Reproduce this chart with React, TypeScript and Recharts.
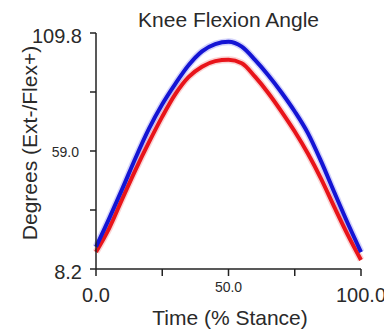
import React from "react";
import { LineChart, Line, XAxis, YAxis } from "recharts";

const stance = [0, 5, 10, 15, 20, 25, 30, 35, 40, 45, 50, 55, 60, 65, 70, 75, 80, 85, 90, 95, 100];
const blueValues = [17.7, 30.0, 42.9, 56.2, 68.6, 79.1, 88.0, 96.0, 101.9, 105.0, 106.0, 103.9, 98.2, 91.6, 84.2, 76.0, 66.6, 54.4, 41.0, 27.9, 15.5];
const redValues = [15.5, 25.8, 38.6, 51.1, 62.8, 73.8, 83.6, 90.9, 95.3, 97.7, 98.3, 96.8, 91.0, 84.0, 76.0, 67.4, 57.8, 46.9, 34.7, 22.9, 12.1];
const xTicks = [0, 25, 50, 75, 100];
const xTickLabels: Record<number, string> = { 0: "0.0", 50: "50.0", 100: "100.0" };
const yTicks = [8.2, 33.6, 59.0, 84.4, 109.8];
const yTickLabels: Record<number, string> = { 8.2: "8.2", 59: "59.0", 109.8: "109.8" };

const data = stance.map((t, i) => ({ t, blue: blueValues[i], red: redValues[i] }));

const FONT = "'Liberation Sans', Arial, sans-serif";
const TEXT = "#2a2a2a";

const XTick = (props: any) => {
  const v = props.payload.value;
  const label = xTickLabels[v];
  if (!label) return null;
  const small = v === 50;
  return (
    <text
      x={props.x}
      y={props.y + (small ? 11 : 19)}
      textAnchor="middle"
      dominantBaseline="central"
      fontFamily={FONT}
      fontSize={small ? 14 : 20}
      fill={TEXT}
    >
      {label}
    </text>
  );
};

const YTick = (props: any) => {
  const v = Math.round(props.payload.value * 10) / 10;
  const label = yTickLabels[v];
  if (!label) return null;
  const small = v === 59;
  return (
    <text
      x={props.x - (small ? 11 : 8)}
      y={props.y + (small ? 1 : 3)}
      textAnchor="end"
      dominantBaseline="central"
      fontFamily={FONT}
      fontSize={small ? 14 : 20}
      fill={TEXT}
    >
      {label}
    </text>
  );
};

const YLabel = (props: any) => {
  const vb = props.viewBox;
  const cx = vb.x + 21;
  const cy = vb.y + vb.height / 2 - 8;
  return (
    <text
      x={cx}
      y={cy}
      transform={`rotate(-90, ${cx}, ${cy})`}
      textAnchor="middle"
      dominantBaseline="central"
      fontFamily={FONT}
      fontSize={21}
      fill={TEXT}
    >
      Degrees (Ext-/Flex+)
    </text>
  );
};

const XLabel = (props: any) => {
  const vb = props.viewBox;
  return (
    <text
      x={vb.x + vb.width / 2 + 1.5}
      y={vb.y + 56}
      textAnchor="middle"
      fontFamily={FONT}
      fontSize={21}
      fill={TEXT}
    >
      Time (% Stance)
    </text>
  );
};

export default function App() {
  return (
    <div style={{ position: "relative", width: 384, height: 328 }}>
      <div
        style={{
          position: "absolute",
          left: 0,
          width: 441,
          top: 0,
          textAlign: "center",
          fontFamily: FONT,
          fontSize: 21,
          color: TEXT,
          lineHeight: "24px",
        }}
      >
        Knee Flexion Angle
      </div>
      <LineChart
        width={384}
        height={328}
        data={data}
        style={{ overflow: "visible" }}
        margin={{ top: 25, right: 31, bottom: 0, left: 0 }}
      >
        <XAxis
          dataKey="t"
          type="number"
          domain={[0, 100]}
          ticks={xTicks}
          tickSize={7}
          tickMargin={0}
          height={67}
          stroke="#222"
          strokeWidth={1.5}
          tick={<XTick />}
          label={<XLabel />}
        />
        <YAxis
          type="number"
          domain={[8.2, 109.8]}
          ticks={yTicks}
          tickSize={6}
          tickMargin={0}
          width={88}
          stroke="#222"
          strokeWidth={1.5}
          tick={<YTick />}
          label={<YLabel />}
          allowDataOverflow
        />
        <Line dataKey="red" type="monotone" stroke="#f08080" strokeOpacity={0.35} strokeWidth={7} dot={false} isAnimationActive={false} />
        <Line dataKey="blue" type="monotone" stroke="#8080f0" strokeOpacity={0.35} strokeWidth={7} dot={false} isAnimationActive={false} />
        <Line dataKey="red" type="monotone" stroke="#e8141a" strokeWidth={4} dot={false} isAnimationActive={false} />
        <Line dataKey="blue" type="monotone" stroke="#1414d4" strokeWidth={4} dot={false} isAnimationActive={false} />
      </LineChart>
    </div>
  );
}
